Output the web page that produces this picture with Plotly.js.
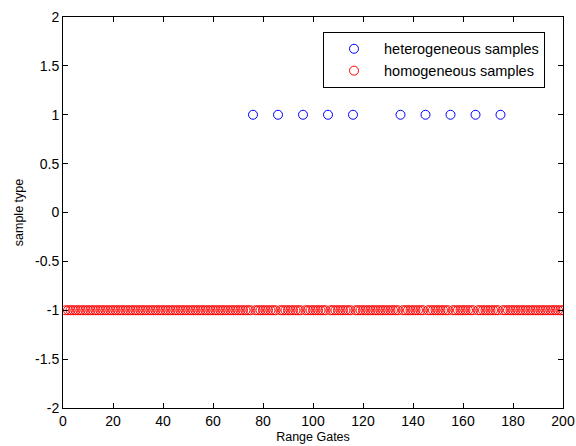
<!DOCTYPE html>
<html>
<head>
<meta charset="utf-8">
<script src="https://cdn.plot.ly/plotly-3.0.1.min.js"></script>
<style>html,body{margin:0;padding:0;background:#fff;}#chart{width:576px;height:446px;}</style>
</head>
<body>
<div id="chart"></div>
<script>
// Data
const heteroGates = [76, 86, 96, 106, 116, 135, 145, 155, 165, 175];
const heteroValue = 1;
const homoValue = -1;
const gateCount = 200;
const homoGates = [];
for (let g = 1; g <= gateCount; g++) { if (!heteroGates.includes(g)) homoGates.push(g); }

const xTicks = [0, 20, 40, 60, 80, 100, 120, 140, 160, 180, 200];
const yTicks = [-2, -1.5, -1, -0.5, 0, 0.5, 1, 1.5, 2];
const yTickText = ["-2", "-1.5", "-1", "-0.5", "0", "0.5", "1", "1.5", "2"];

const fam = "Liberation Sans, Arial, sans-serif";
const tickFont = {family: fam, size: 14, color: "#000"};
const titleFont = {family: fam, size: 12.5, color: "#000"};
const legendFont = {family: fam, size: 14.5, color: "#000"};

const traces = [
  {
    x: heteroGates, y: heteroGates.map(() => heteroValue),
    mode: "markers", type: "scatter", name: "heterogeneous samples",
    marker: {symbol: "circle-open", size: 9, color: "#0000ff", line: {width: 1, color: "#0000ff"}}
  },
  {
    x: homoGates, y: homoGates.map(() => homoValue),
    mode: "markers", type: "scatter", name: "homogeneous samples",
    marker: {symbol: "circle-open", size: 9, color: "#ff0000", line: {width: 1, color: "#ff0000"}}
  }
];

const axisCommon = {
  showgrid: false, zeroline: false, showline: true, mirror: "ticks",
  linecolor: "#000", linewidth: 1, ticks: "inside", ticklen: 5, tickcolor: "#000",
  tickfont: tickFont
};

const layout = {
  width: 576, height: 446,
  margin: {l: 63, r: 13, t: 17, b: 38},
  paper_bgcolor: "#fff", plot_bgcolor: "#fff",
  font: tickFont,
  showlegend: true,
  legend: {
    x: 0.52, y: 0.962, xanchor: "left", yanchor: "top",
    bordercolor: "#000", borderwidth: 1, bgcolor: "#fff",
    itemwidth: 50,
    font: legendFont
  },
  xaxis: Object.assign({}, axisCommon, {
    range: [0, 200], tickvals: xTicks, ticktext: xTicks.map(String),
    title: {text: "Range Gates", font: titleFont, standoff: 4}
  }),
  yaxis: Object.assign({}, axisCommon, {
    range: [-2, 2], tickvals: yTicks, ticktext: yTickText,
    title: {text: "sample type", font: titleFont, standoff: 8}
  })
};

Plotly.newPlot("chart", traces, layout, {staticPlot: true, displayModeBar: false});
</script>
</body>
</html>
